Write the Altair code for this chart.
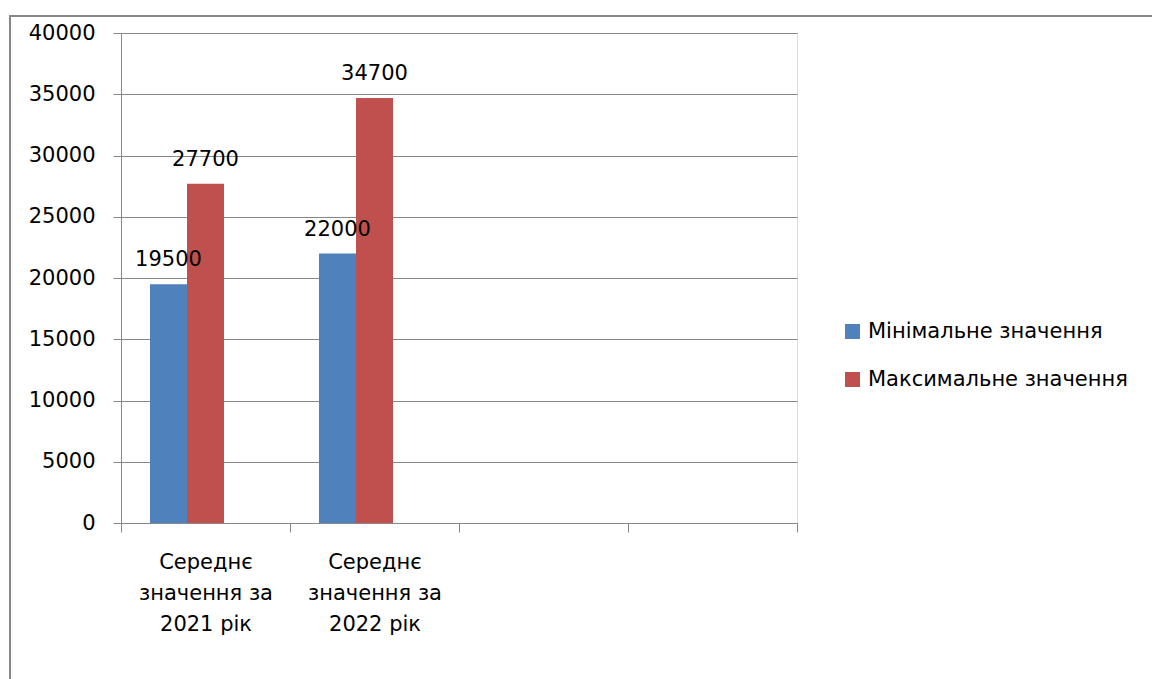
import altair as alt
import pandas as pd

# Category labels (lines separated by "|"); the last two categories are empty slots
categories = ["Середнє|значення за|2021 рік", "Середнє|значення за|2022 рік", " ", "  "]
series = ["Мінімальне значення", "Максимальне значення"]
min_values = [19500, 22000]
max_values = [27700, 34700]
colors = ["#4F81BD", "#C0504D"]
y_ticks = [0, 5000, 10000, 15000, 20000, 25000, 30000, 35000, 40000]

rows = []
for cat, lo, hi in zip(categories, min_values, max_values):
    rows.append({"cat": cat, "series": series[0], "value": lo})
    rows.append({"cat": cat, "series": series[1], "value": hi})
df = pd.DataFrame(rows)

FONT = "DejaVu Sans"
FS = 21
GRAY = "#878787"

x_enc = alt.X(
    "cat:N",
    sort=categories,
    scale=alt.Scale(domain=categories, paddingInner=0, paddingOuter=0),
    axis=alt.Axis(
        title=None,
        labelAngle=0,
        labelExpr="split(datum.label, '|')",
        tickBand="extent",
        tickSize=9,
        tickColor=GRAY,
        domainColor=GRAY,
        labelFontSize=FS,
        labelLineHeight=31,
        labelPadding=19,
        labelColor="black",
        labelFont=FONT,
        grid=False,
    ),
)
# The two bars of a group sit in the left-middle of each category band
xoff_enc = alt.XOffset(
    "series:N",
    sort=series,
    scale=alt.Scale(domain=series, range=[29, 103], paddingInner=0, paddingOuter=0),
)
y_enc = alt.Y(
    "value:Q",
    scale=alt.Scale(domain=[0, 40000], nice=False),
    axis=alt.Axis(
        title=None,
        values=y_ticks,
        format="d",
        grid=True,
        gridColor=GRAY,
        tickSize=8,
        tickColor=GRAY,
        domainColor=GRAY,
        labelPadding=18,
        labelFontSize=FS,
        labelColor="black",
        labelFont=FONT,
    ),
)

bars = alt.Chart(df).mark_bar().encode(
    x=x_enc,
    xOffset=xoff_enc,
    y=y_enc,
    color=alt.Color(
        "series:N",
        sort=series,
        scale=alt.Scale(domain=series, range=colors),
        legend=alt.Legend(
            title=None,
            orient="none",
            legendX=721,
            legendY=288,
            symbolType="square",
            symbolSize=225,
            symbolStrokeWidth=0,
            labelFontSize=FS,
            labelFont=FONT,
            labelColor="black",
            labelOffset=5,
            labelLimit=0,
            rowPadding=26,
        ),
    ),
)

labels = alt.Chart(df).mark_text(
    baseline="alphabetic", dy=-18, fontSize=FS, font=FONT, color="black"
).encode(
    x=x_enc,
    xOffset=xoff_enc,
    y=y_enc,
    text=alt.Text("value:Q", format="d"),
)

# Outer chart frame
frame = alt.Chart(df).mark_rect(
    fillOpacity=0, stroke=GRAY, strokeWidth=1.5
).encode(
    x=alt.value(-111), x2=alt.value(1100), y=alt.value(-17), y2=alt.value(700)
)

chart = (
    alt.layer(frame, bars, labels)
    .properties(
        width=676,
        height=490,
        autosize=alt.AutoSizeParams(type="none"),
        padding={"left": 121, "top": 33, "right": 355, "bottom": 156},
    )
    .configure_view(stroke=None)
    .configure(font=FONT, background="white")
)

chart.save("out.html", embed_options={"renderer": "svg", "actions": False})
